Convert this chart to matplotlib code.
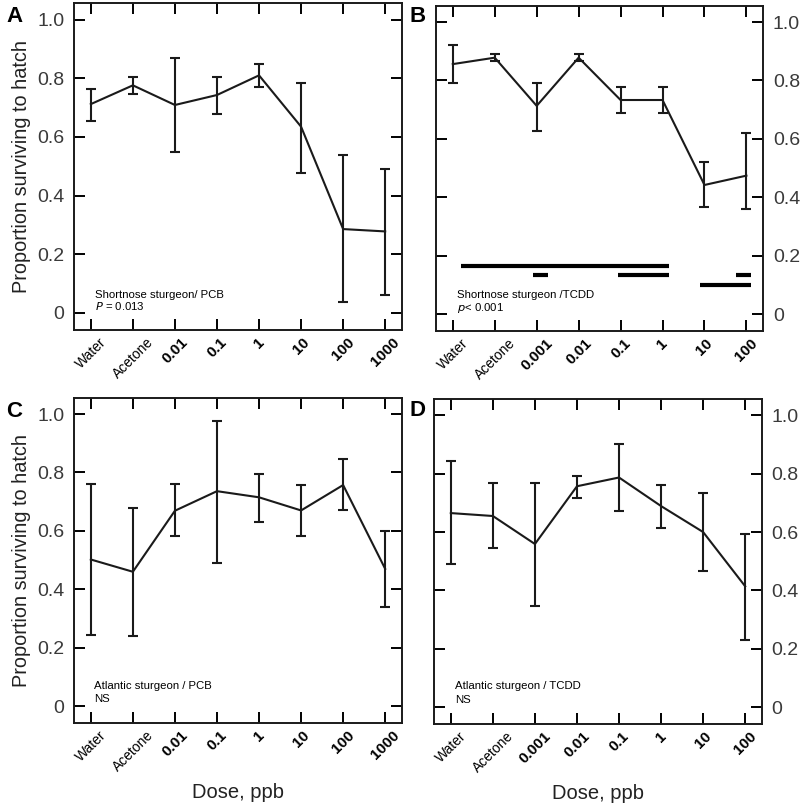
import matplotlib
matplotlib.use("Agg")
import matplotlib.pyplot as plt

plt.rcParams['font.family'] = ['Liberation Sans', 'DejaVu Sans']

# doses
pcbDoses = ["Water", "Acetone", "0.01", "0.1", "1", "10", "100", "1000"]
tcddDoses = ["Water", "Acetone", "0.001", "0.01", "0.1", "1", "10", "100"]

# panel A: shortnose sturgeon / PCB
aMean = [0.712, 0.776, 0.709, 0.743, 0.810, 0.635, 0.286, 0.278]
aUpper = [0.762, 0.805, 0.870, 0.805, 0.848, 0.783, 0.539, 0.492]
aLower = [0.655, 0.745, 0.548, 0.677, 0.771, 0.476, 0.037, 0.060]

# panel B: shortnose sturgeon / TCDD
bMean = [0.856, 0.878, 0.713, 0.878, 0.733, 0.733, 0.442, 0.474]
bUpper = [0.921, 0.891, 0.790, 0.891, 0.779, 0.779, 0.519, 0.621]
bLower = [0.792, 0.867, 0.627, 0.867, 0.688, 0.688, 0.366, 0.360]

# significance bars in B (start, end, height)
sigStart = [0.2, 1.91, 3.95, 6.75, 5.9]
sigEnd = [5.16, 2.26, 5.16, 7.12, 7.12]
sigY = [0.166, 0.133, 0.133, 0.133, 0.100]

# panel C: atlantic sturgeon / PCB
cMean = [0.502, 0.460, 0.669, 0.736, 0.715, 0.670, 0.757, 0.470]
cUpper = [0.759, 0.678, 0.759, 0.978, 0.795, 0.756, 0.847, 0.600]
cLower = [0.244, 0.240, 0.581, 0.489, 0.632, 0.581, 0.670, 0.339]

# panel D: atlantic sturgeon / TCDD
dMean = [0.665, 0.655, 0.559, 0.757, 0.787, 0.689, 0.600, 0.414]
dUpper = [0.842, 0.768, 0.768, 0.793, 0.903, 0.763, 0.734, 0.595]
dLower = [0.491, 0.544, 0.345, 0.718, 0.673, 0.614, 0.466, 0.230]

yTicks = [0, 0.2, 0.4, 0.6, 0.8, 1.0]
yTickLabels = ["0", "0.2", "0.4", "0.6", "0.8", "1.0"]

fig = plt.figure(figsize=(8, 8.1), dpi=100)
axA = fig.add_axes([0.0925, 0.5926, 0.41, 0.4031])
axB = fig.add_axes([0.545, 0.5914, 0.409, 0.4012])
axC = fig.add_axes([0.0925, 0.1074, 0.41, 0.4012])
axD = fig.add_axes([0.5425, 0.1062, 0.41, 0.4008])


def drawPanel(ax, doses, mean, upper, lower, side):
    x = list(range(len(doses)))
    errLow = [m - l for m, l in zip(mean, lower)]
    errHigh = [u - m for m, u in zip(mean, upper)]
    ax.errorbar(x, mean, yerr=[errLow, errHigh], color="#1a1a1a", lw=1.5,
                elinewidth=1.5, capsize=3.5, capthick=1.5)
    ax.set_xlim(-0.4, 7.4)
    ax.set_ylim(-0.058, 1.055)
    ax.set_yticks(yTicks)
    ax.set_yticklabels(yTickLabels)
    ax.set_xticks(x)
    ax.set_xticklabels(doses, rotation=45, ha="center", va="top")
    for lab in ax.get_xticklabels():
        if lab.get_text() in ("Water", "Acetone"):
            lab.set_fontsize(10)
        else:
            lab.set_fontsize(11)
            lab.set_fontweight("bold")
    ax.tick_params(axis="both", direction="in", length=8, width=1.4,
                   top=True, bottom=True, left=True, right=True)
    ax.tick_params(axis="x", pad=4)
    ax.tick_params(axis="y", labelsize=14, labelcolor="#3a3a3a", pad=7,
                   labelleft=(side == "left"), labelright=(side == "right"))
    for sp in ax.spines.values():
        sp.set_linewidth(1.4)
        sp.set_color("#1a1a1a")


drawPanel(axA, pcbDoses, aMean, aUpper, aLower, "left")
drawPanel(axB, tcddDoses, bMean, bUpper, bLower, "right")
drawPanel(axC, pcbDoses, cMean, cUpper, cLower, "left")
drawPanel(axD, tcddDoses, dMean, dUpper, dLower, "right")

for s, e, y in zip(sigStart, sigEnd, sigY):
    axB.plot([s, e], [y, y], color="black", lw=3, solid_capstyle="butt")

axA.set_ylabel("Proportion surviving to hatch", fontsize=14.3, color="#222222")
axC.set_ylabel("Proportion surviving to hatch", fontsize=14.3, color="#222222")
axC.set_xlabel("Dose, ppb", fontsize=14.5, color="#222222", labelpad=6)
axD.set_xlabel("Dose, ppb", fontsize=14.5, color="#222222", labelpad=6)

noteSize = 8.2
axA.text(0.1, 0.051, "Shortnose sturgeon/ PCB", fontsize=noteSize)
axA.text(0.1, 0.010, "$\\it{P}$ = 0.013", fontsize=noteSize)
axB.text(0.1, 0.055, "Shortnose sturgeon /TCDD", fontsize=noteSize)
axB.text(0.1, 0.010, "$\\it{p}$< 0.001", fontsize=noteSize)
axC.text(0.07, 0.058, "Atlantic sturgeon / PCB", fontsize=noteSize)
axC.text(0.07, 0.014, "NS", fontsize=noteSize)
axD.text(0.1, 0.062, "Atlantic sturgeon / TCDD", fontsize=noteSize)
axD.text(0.1, 0.014, "NS", fontsize=noteSize)

fig.text(0.008, 0.993, "A", fontsize=16, fontweight="bold", va="top")
fig.text(0.512, 0.993, "B", fontsize=16, fontweight="bold", va="top")
fig.text(0.008, 0.505, "C", fontsize=16, fontweight="bold", va="top")
fig.text(0.512, 0.506, "D", fontsize=16, fontweight="bold", va="top")

fig.savefig("out.png", dpi=100)
